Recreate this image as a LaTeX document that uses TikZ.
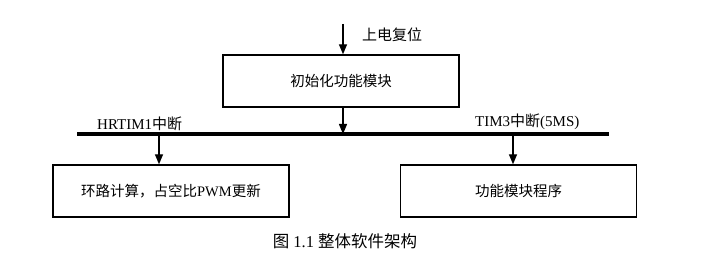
\documentclass[tikz,border=0pt]{standalone}
\usepackage{fontspec}
\setmainfont{Liberation Serif}
\newfontfamily\cjk{Noto Sans CJK SC}
\usetikzlibrary{arrows.meta}
\begin{document}
\begin{tikzpicture}[x=1pt,y=-1pt,
  box/.style={draw,line width=1.4pt,minimum width=236pt,minimum height=52pt,inner sep=0pt,font=\fontsize{14.5}{16}\selectfont},
  lbl/.style={inner sep=0pt,font=\fontsize{15}{17}\selectfont},
  arr/.style={line width=1.4pt,-{Triangle[length=10pt,width=8pt]}},
  bus/.style={line width=4pt}]
\useasboundingbox (0,0) rectangle (715,256);
\node[box] (init) at (341,81) {\cjk 初始化功能模块};
\node[box] (lb) at (171,191) {{\cjk 环路计算，占空比}PWM{\cjk 更新}};
\node[box] (rb) at (518.5,191) {\cjk 功能模块程序};
\coordinate (rst) at (343,24);
\coordinate (busL) at (77,134);
\coordinate (busR) at (609,134);
\coordinate (bm) at (343,134);
\coordinate (bl) at (159,134);
\coordinate (br) at (513,134);
\draw[bus] (busL) -- (busR);
\draw[arr] (rst) -- (rst |- init.north);
\draw[arr] (bm |- init.south) -- (bm);
\draw[arr] (bl) -- (bl |- lb.north);
\draw[arr] (br) -- (br |- rb.north);
\node[lbl,anchor=west] (t1) at (362,35) {\cjk 上电复位};
\node[lbl,anchor=west] (t2) at (97,124) {HRTIM1{\cjk 中断}};
\node[lbl,anchor=west] (t3) at (475,122) {TIM3{\cjk 中断}(5MS)};
\node[inner sep=0pt,font=\fontsize{16.5}{18}\selectfont] (cap) at (345,241) {{\cjk 图} 1.1 {\cjk 整体软件架构}};
\end{tikzpicture}
\end{document}
